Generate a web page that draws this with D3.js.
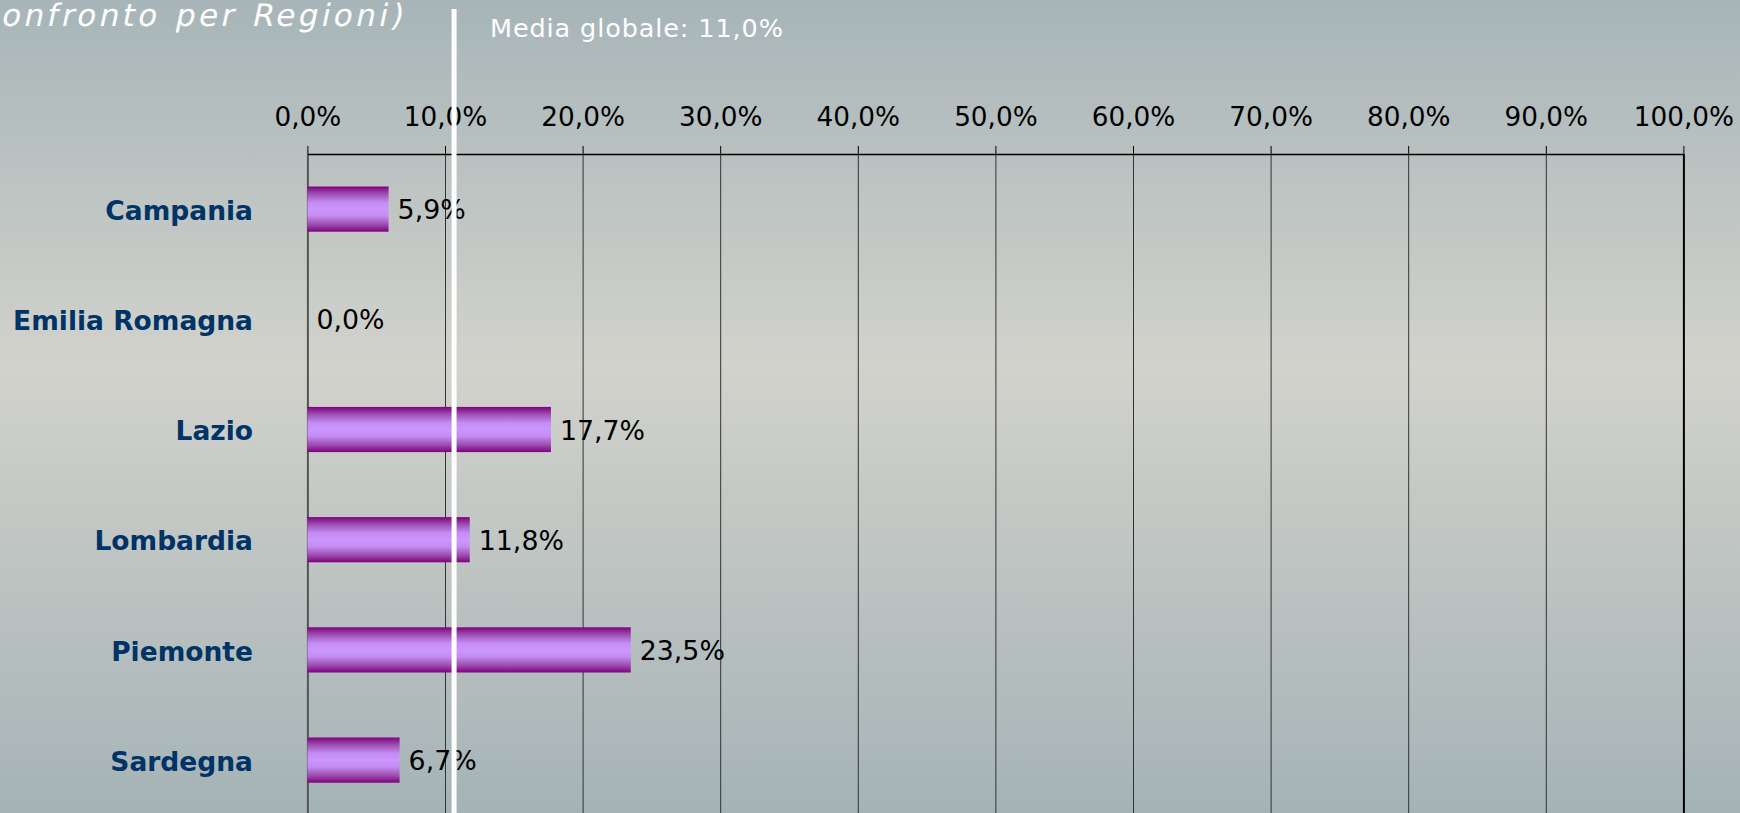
<!DOCTYPE html>
<html>
<head>
<meta charset="utf-8">
<script src="https://cdn.jsdelivr.net/npm/d3@7"></script>
<style>
  html, body { margin: 0; padding: 0; overflow: hidden; }
  svg { display: block; }
</style>
</head>
<body>
<svg id="chart" width="1740" height="813"></svg>
<script>
// ---- data ----
const categories = ["Campania", "Emilia Romagna", "Lazio", "Lombardia", "Piemonte", "Sardegna"];
const values = [0.059, 0.0, 0.177, 0.118, 0.235, 0.067];
const tickValues = [0, 0.1, 0.2, 0.3, 0.4, 0.5, 0.6, 0.7, 0.8, 0.9, 1.0];
const meanValue = 0.11;          // value printed in the label
const meanLineValue = 0.1066;    // where the white line sits in the picture
const meanLabel = "Media globale: ";
const titleText = "(Confronto per Regioni)";

// ---- setup ----
const W = 1740, H = 813;
const svg = d3.select("#chart");
const it = d3.formatLocale({ decimal: ",", thousands: ".", grouping: [3], currency: ["€", ""] });
const pct = it.format(".1%");

const defs = svg.append("defs");
const bg = defs.append("linearGradient").attr("id", "bg").attr("x1", 0).attr("y1", 0).attr("x2", 0).attr("y2", 1);
bg.append("stop").attr("offset", "0%").attr("stop-color", "#a7b5b8");
bg.append("stop").attr("offset", "45%").attr("stop-color", "#d2d2cc");
bg.append("stop").attr("offset", "100%").attr("stop-color", "#a5b3b6");

const bar = defs.append("linearGradient").attr("id", "bar").attr("x1", 0).attr("y1", 0).attr("x2", 0).attr("y2", 1);
bar.append("stop").attr("offset", "0%").attr("stop-color", "#800080");
bar.append("stop").attr("offset", "15%").attr("stop-color", "#9a4aac");
bar.append("stop").attr("offset", "35%").attr("stop-color", "#c48cf3");
bar.append("stop").attr("offset", "50%").attr("stop-color", "#cc96ff");
bar.append("stop").attr("offset", "65%").attr("stop-color", "#c48cf3");
bar.append("stop").attr("offset", "85%").attr("stop-color", "#9a4aac");
bar.append("stop").attr("offset", "100%").attr("stop-color", "#800080");

svg.append("rect").attr("width", W).attr("height", H).attr("fill", "url(#bg)");

// ---- scales ----
const x = d3.scaleLinear().domain([0, 1]).range([307.4, 1683.4]);
const y = d3.scaleBand().domain(categories).range([154, 154 + 6 * 110.2])
  .paddingInner(0.59).paddingOuter(0.295);

const font = "'DejaVu Sans', Verdana, sans-serif";

// gridlines
const grid = svg.append("g").attr("transform", "translate(0,154)")
  .call(d3.axisBottom(x).tickValues(tickValues).tickSize(H).tickFormat(""));
grid.select(".domain").remove();
grid.selectAll(".tick line")
  .attr("stroke", (d) => d === 1 ? "#000" : (d === 0 ? "#555" : "#333"))
  .attr("stroke-width", (d) => d === 1 ? 2 : (d === 0 ? 2 : 1));

// top axis
const ax = svg.append("g").attr("transform", "translate(0,154)")
  .call(d3.axisTop(x).tickValues(tickValues).tickSize(8).tickSizeOuter(0).tickPadding(20).tickFormat(pct));
ax.select(".domain").attr("stroke", "#000").attr("stroke-width", 1.5);
ax.selectAll(".tick line").attr("stroke", "#000").attr("stroke-width", 1);
ax.selectAll(".tick text").attr("font-family", font).attr("font-size", 26.3).attr("fill", "#000");

// bars
svg.append("g").selectAll("rect").data(categories).join("rect")
  .attr("x", x(0))
  .attr("y", (c) => y(c))
  .attr("width", (c, i) => x(values[i]) - x(0))
  .attr("height", y.bandwidth())
  .attr("fill", "url(#bar)");

// value labels
svg.append("g").selectAll("text").data(categories).join("text")
  .attr("x", (c, i) => x(values[i]) + 9)
  .attr("y", (c) => y(c) + y.bandwidth() / 2)
  .attr("dy", "0.38em")
  .attr("font-family", font).attr("font-size", 26.8).attr("fill", "#000")
  .text((c, i) => pct(values[i]));

// category labels
svg.append("g").selectAll("text").data(categories).join("text")
  .attr("x", 253)
  .attr("y", (c) => y(c) + y.bandwidth() / 2)
  .attr("dy", "0.4em")
  .attr("text-anchor", "end")
  .attr("font-family", font).attr("font-size", 26.5).attr("font-weight", "bold").attr("fill", "#003366")
  .text((c) => c);

// mean line
svg.append("line")
  .attr("x1", x(meanLineValue)).attr("x2", x(meanLineValue))
  .attr("y1", 9).attr("y2", H)
  .attr("stroke", "#ffffff").attr("stroke-width", 5);

svg.append("text")
  .attr("x", 490).attr("y", 37)
  .attr("font-family", font).attr("font-size", 25.5).attr("fill", "#ffffff")
  .attr("letter-spacing", 0.9)
  .text(meanLabel + pct(meanValue));

// title (partially cut off at left), slanted
svg.append("g").attr("transform", "translate(405,26) skewX(-12)")
  .append("text")
  .attr("x", 0).attr("y", 0)
  .attr("text-anchor", "end")
  .attr("font-family", font).attr("font-size", 31).attr("fill", "#ffffff")
  .attr("letter-spacing", 3.4)
  .attr("word-spacing", 2)
  .text(titleText);
</script>
</body>
</html>
